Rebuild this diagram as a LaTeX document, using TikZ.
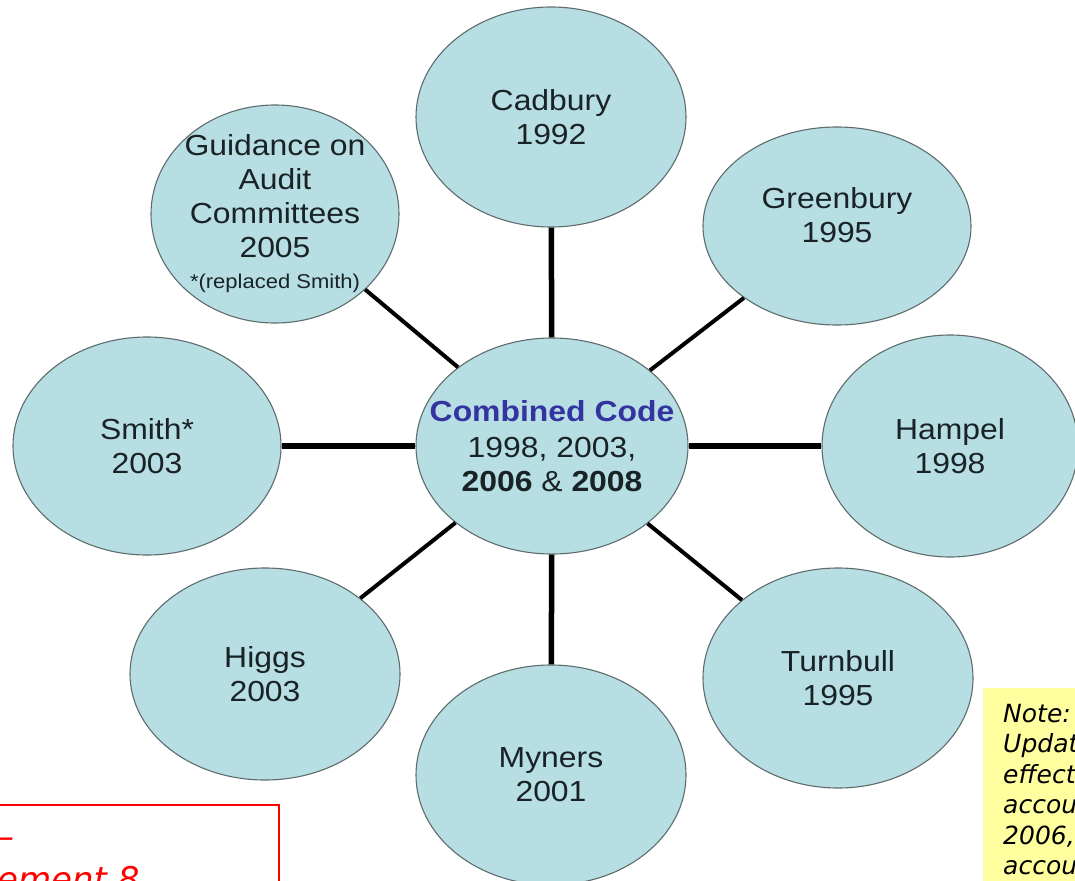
\documentclass[tikz,border=0pt]{standalone}
\usepackage{fontspec}
\setmainfont[FakeStretch=1.1]{Liberation Sans}
\newfontfamily\notefont{DejaVu Sans}
\usetikzlibrary{shapes.geometric}
\definecolor{bubblefill}{RGB}{183,222,227}
\definecolor{rim}{RGB}{95,108,110}
\definecolor{ink}{RGB}{25,35,38}
\definecolor{codeblue}{RGB}{52,52,160}
\definecolor{notebg}{RGB}{255,255,160}
\definecolor{alertred}{RGB}{255,0,0}
\tikzset{
  bubble/.style={ellipse, draw=rim, line width=1.1pt, fill=bubblefill,
    inner xsep=-45pt, inner ysep=-12pt, align=center, text=ink,
    font=\fontsize{29}{34}\selectfont},
  straightlink/.style={line width=5.5pt, black},
  slantlink/.style={line width=4pt, black},
  notetext/.style={inner sep=0pt, anchor=north west, align=left,
    font=\notefont\itshape\fontsize{25}{30.5}\selectfont, text=black},
  redtext/.style={inner sep=0pt, anchor=base west,
    font=\notefont\itshape\fontsize{34}{40}\selectfont, text=alertred}
}
\begin{document}
\begin{tikzpicture}[x=1pt,y=-1pt]
  \useasboundingbox (0,0) rectangle (1075,880);
  \clip (0,0) rectangle (1075,880);
  \fill[white] (0,0) rectangle (1075,880);

  % hub and the eight reports around it
  \node[bubble, minimum width=272, minimum height=216] (code) at (552,446)
    {{\color{codeblue}\bfseries Combined Code}\\[2pt]1998, 2003,\\\textbf{2006} \& \textbf{2008}};
  \node[bubble, minimum width=270, minimum height=220] (cadbury) at (551,117) {Cadbury\\1992};
  \node[bubble, minimum width=268, minimum height=198] (greenbury) at (837,226) {Greenbury\\1995\\[-12pt]\mbox{}};
  \node[bubble, minimum width=256, minimum height=222] (hampel) at (950,446) {Hampel\\1998};
  \node[bubble, minimum width=270, minimum height=220] (turnbull) at (838,678) {Turnbull\\1995};
  \node[bubble, minimum width=270, minimum height=220] (myners) at (551,775) {Myners\\2001};
  \node[bubble, minimum width=270, minimum height=212] (higgs) at (265,674) {Higgs\\2003};
  \node[bubble, minimum width=268, minimum height=218] (smith) at (147,446) {Smith*\\2003};
  \node[bubble, minimum width=248, minimum height=218] (guidance) at (275,214)
    {Guidance on\\Audit\\Committees\\2005\\[-3pt]{\fontsize{20}{22}\selectfont *(replaced Smith)}};

  % spokes
  \draw[straightlink] (code) -- (cadbury);
  \draw[straightlink] (code) -- (myners);
  \draw[straightlink] (code) -- (hampel);
  \draw[straightlink] (code) -- (smith);
  \draw[slantlink] (code) -- (greenbury);
  \draw[slantlink] (code) -- (turnbull);
  \draw[slantlink] (code) -- (higgs);
  \draw[slantlink] (code) -- (guidance);

  % red framed remark, lower left
  \draw[alertred, line width=2pt] (-20,805) rectangle (279,920);
  \node[redtext] (remarkA) at (-3,848) {–};
  \node[redtext] (remarkB) at (-3,891) {ement 8};

  % yellow note, lower right
  \fill[notebg] (983,688) rectangle (1100,920);
  \node[notetext] (note) at (1003,704) {Note:\\Updat\\effect\\accou\\2006,\\accou};
\end{tikzpicture}
\end{document}
